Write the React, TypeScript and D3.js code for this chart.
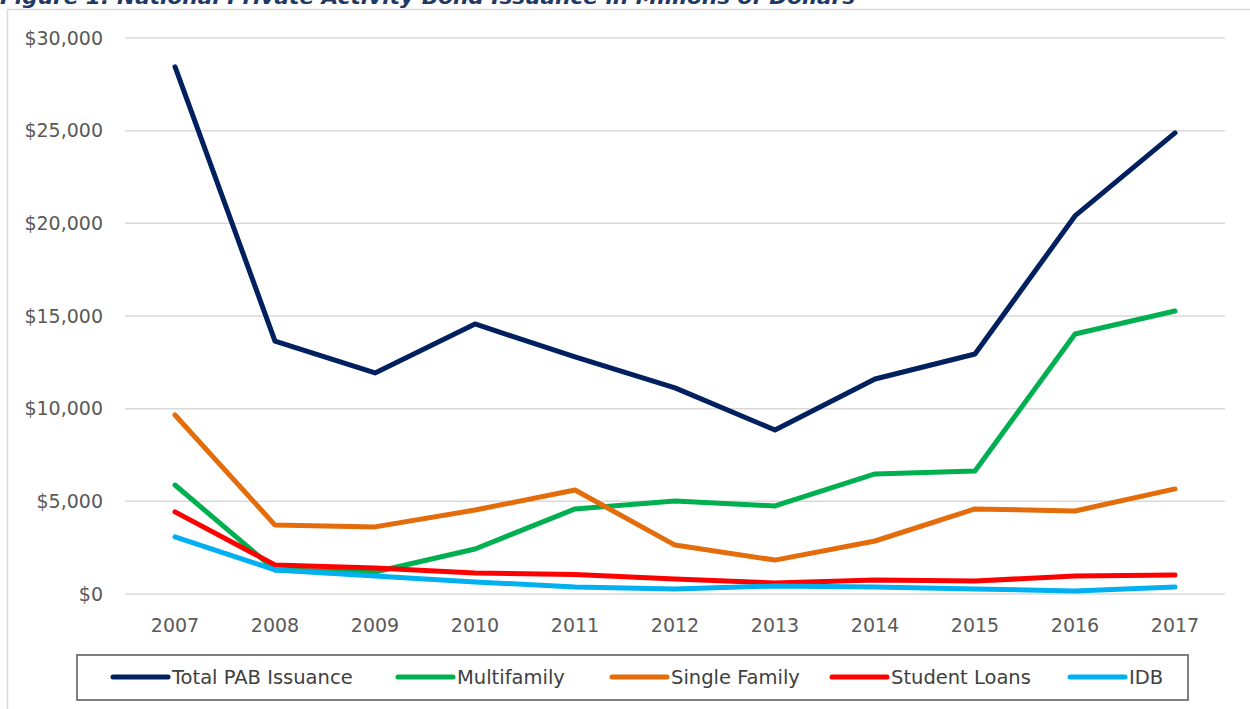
import * as d3 from 'd3'

// chart values (millions of dollars)
const years = ['2007', '2008', '2009', '2010', '2011', '2012', '2013', '2014', '2015', '2016', '2017']
const totalPab = [28450, 13650, 11930, 14570, 12790, 11120, 8850, 11600, 12950, 20400, 24880]
const multifamily = [5880, 1300, 1190, 2430, 4590, 5020, 4750, 6480, 6640, 14030, 15270]
const singleFamily = [9660, 3720, 3620, 4530, 5610, 2640, 1830, 2860, 4590, 4480, 5670]
const studentLoans = [4430, 1570, 1400, 1130, 1050, 810, 590, 760, 700, 970, 1030]
const idb = [3080, 1300, 970, 650, 380, 270, 430, 380, 270, 160, 380]
const yTicks = [0, 5000, 10000, 15000, 20000, 25000, 30000]

const seriesNames = ['Total PAB Issuance', 'Multifamily', 'Single Family', 'Student Loans', 'IDB']
const seriesColors = ['#002060', '#00B050', '#E46C0A', '#FF0000', '#00B0F0']

const title = 'Figure 1: National Private Activity Bond Issuance in Millions of Dollars'

const W = 1250
const H = 709
const font = '"DejaVu Sans", sans-serif'

export default function App() {
  const series = [totalPab, multifamily, singleFamily, studentLoans, idb]

  const x = d3.scaleBand().domain(years).range([125, 1225])
  const y = d3.scaleLinear().domain([0, 30000]).range([594, 38])
  const fmt = (v: number) => '$' + d3.format(',')(v)

  const line = d3
    .line<number>()
    .x((_, i) => (x(years[i]) as number) + x.bandwidth() / 2)
    .y((d) => y(d))

  // legend layout: start x of each sample line
  const legendX = [113, 398, 612, 832, 1070]

  return (
    <svg
      width={W}
      height={H}
      style={{ position: 'absolute', left: 0, top: 0, background: '#fff' }}
      fontFamily={font}
    >
      {/* title, cut off at top edge like in the source */}
      <text
        x={0}
        y={4}
        fontSize={20}
        fontWeight='bold'
        fontStyle='italic'
        fill='#1F3864'
        textLength={855}
        lengthAdjust='spacingAndGlyphs'
      >
        {title}
      </text>

      {/* chart area border */}
      <rect x={7.5} y={9.5} width={1260} height={720} fill='none' stroke='#d9d9d9' strokeWidth={1.5} />

      {/* gridlines + y labels */}
      {yTicks.map((t) => (
        <g key={t}>
          <line x1={125} x2={1225} y1={y(t)} y2={y(t)} stroke='#d9d9d9' strokeWidth={1.5} />
          <text x={103} y={y(t)} dy='0.35em' textAnchor='end' fontSize={19} fill='#595959'>
            {fmt(t)}
          </text>
        </g>
      ))}

      {/* x labels */}
      {years.map((yr) => (
        <text
          key={yr}
          x={(x(yr) as number) + x.bandwidth() / 2}
          y={632}
          textAnchor='middle'
          fontSize={19}
          fill='#595959'
        >
          {yr}
        </text>
      ))}

      {/* series lines */}
      {series.map((s, i) => (
        <path
          key={seriesNames[i]}
          d={line(s) || ''}
          fill='none'
          stroke={seriesColors[i]}
          strokeWidth={5}
          strokeLinecap='round'
          strokeLinejoin='round'
        />
      ))}

      {/* legend */}
      <rect x={77} y={655} width={1111} height={45} fill='#fff' stroke='#7f7f7f' strokeWidth={2} />
      {seriesNames.map((n, i) => (
        <g key={n}>
          <line
            x1={legendX[i]}
            x2={legendX[i] + 55}
            y1={677}
            y2={677}
            stroke={seriesColors[i]}
            strokeWidth={5}
            strokeLinecap='round'
          />
          <text x={legendX[i] + 59} y={677} dy='0.35em' fontSize={19.5} fill='#404040'>
            {n}
          </text>
        </g>
      ))}
    </svg>
  )
}
